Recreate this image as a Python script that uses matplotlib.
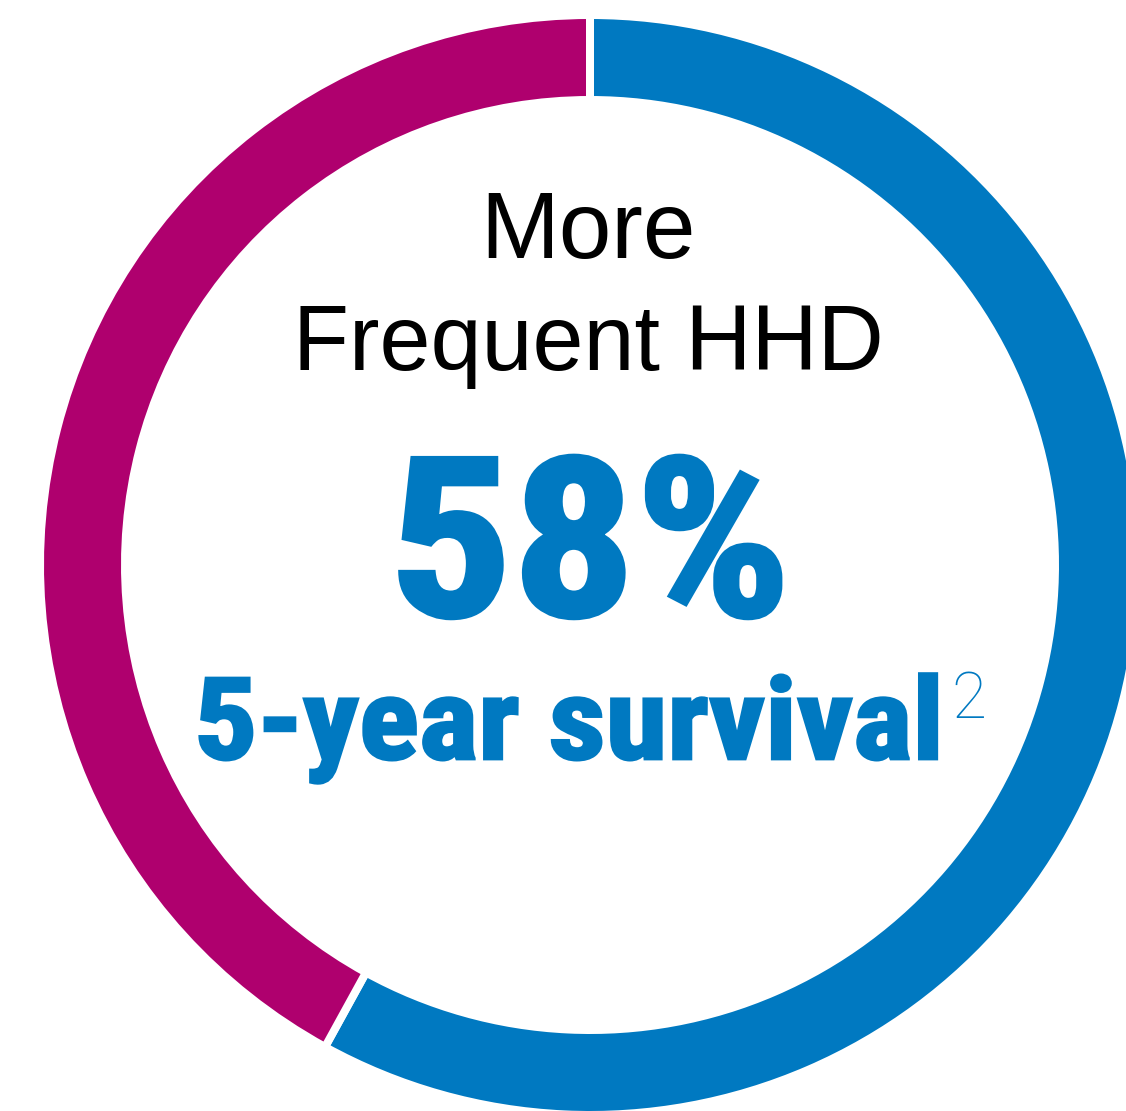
import matplotlib
matplotlib.use("Agg")
import matplotlib.pyplot as plt
from matplotlib import font_manager
from matplotlib.patheffects import AbstractPathEffect
from matplotlib.transforms import Affine2D

# ring shares (percent) and their colours
labels = ["5-year survival", "Non-survival"]
shares = [58, 42]
colors = ["#0079C1", "#AF006E"]

title_lines = ["More", "Frequent HHD"]
headline = "58%"
caption = "5-year survival"
footnote = "2"

# heavy condensed face for the figures, first one found wins
installed = {f.name for f in font_manager.fontManager.ttflist}
heavy = next(f for f in ["Roboto Condensed", "Archivo Narrow", "Barlow Condensed", "Roboto"]
             if f in installed)


class Squeeze(AbstractPathEffect):
    """Narrow a text around x0 (display px) and fatten its strokes a little."""

    def __init__(self, sx, x0, fatten=0.0):
        super().__init__()
        self.sx = sx
        self.x0 = x0
        self.fatten = fatten

    def draw_path(self, renderer, gc, tpath, affine, rgbFace=None):
        squeeze = Affine2D().translate(-self.x0, 0).scale(self.sx, 1).translate(self.x0, 0)
        gc0 = renderer.new_gc()
        gc0.copy_properties(gc)
        if self.fatten > 0 and rgbFace is not None:
            gc0.set_linewidth(self.fatten)
            gc0.set_foreground(rgbFace)
            gc0.set_joinstyle("miter")
        renderer.draw_path(gc0, tpath, affine + squeeze, rgbFace)
        gc0.restore()


W, H = 1126, 1111
fig = plt.figure(figsize=(W / 100, H / 100), dpi=100)
ax = fig.add_axes([0, 0, 1, 1])

cx, cy = 590, H - 565
gap = 8  # white gap between the segments, px
ax.pie(shares, colors=colors, startangle=90, counterclock=False,
       center=(cx, cy), radius=546 + gap / 2, frame=True,
       wedgeprops=dict(width=77 + gap, edgecolor="white",
                       linewidth=gap * 72 / 100))
ax.set_xlim(0, W)
ax.set_ylim(0, H)
ax.axis("off")

blue = colors[0]
ax.text(588, H - 258, title_lines[0], ha="center", va="baseline",
        fontsize=68, family="Liberation Sans", color="black")
ax.text(588, H - 370, title_lines[1], ha="center", va="baseline",
        fontsize=66, family="Liberation Sans", color="black")

big = ax.text(590, H - 616, headline, ha="center", va="baseline",
              fontsize=160, family=heavy, fontweight="black", color=blue)
cap = ax.text(569, H - 759, caption, ha="center", va="baseline",
              fontsize=82, family=heavy, fontweight="black", color=blue)

# fit the heavy lines to their set widths
fig.canvas.draw()
renderer = fig.canvas.get_renderer()
for t, x0, target, fat in [(big, 590, 405, 3.0), (cap, 569, 752, 2.0)]:
    bb = t.get_window_extent(renderer)
    t.set_path_effects([Squeeze((target - fat) / bb.width, x0, fat)])

# superscript reference mark just right of the caption
ax.text(569 + 752 / 2 + 6, H - 718, footnote, ha="left", va="baseline",
        fontsize=46, family="Roboto", fontweight="light", color=blue)

fig.savefig("out.png", dpi=100)
